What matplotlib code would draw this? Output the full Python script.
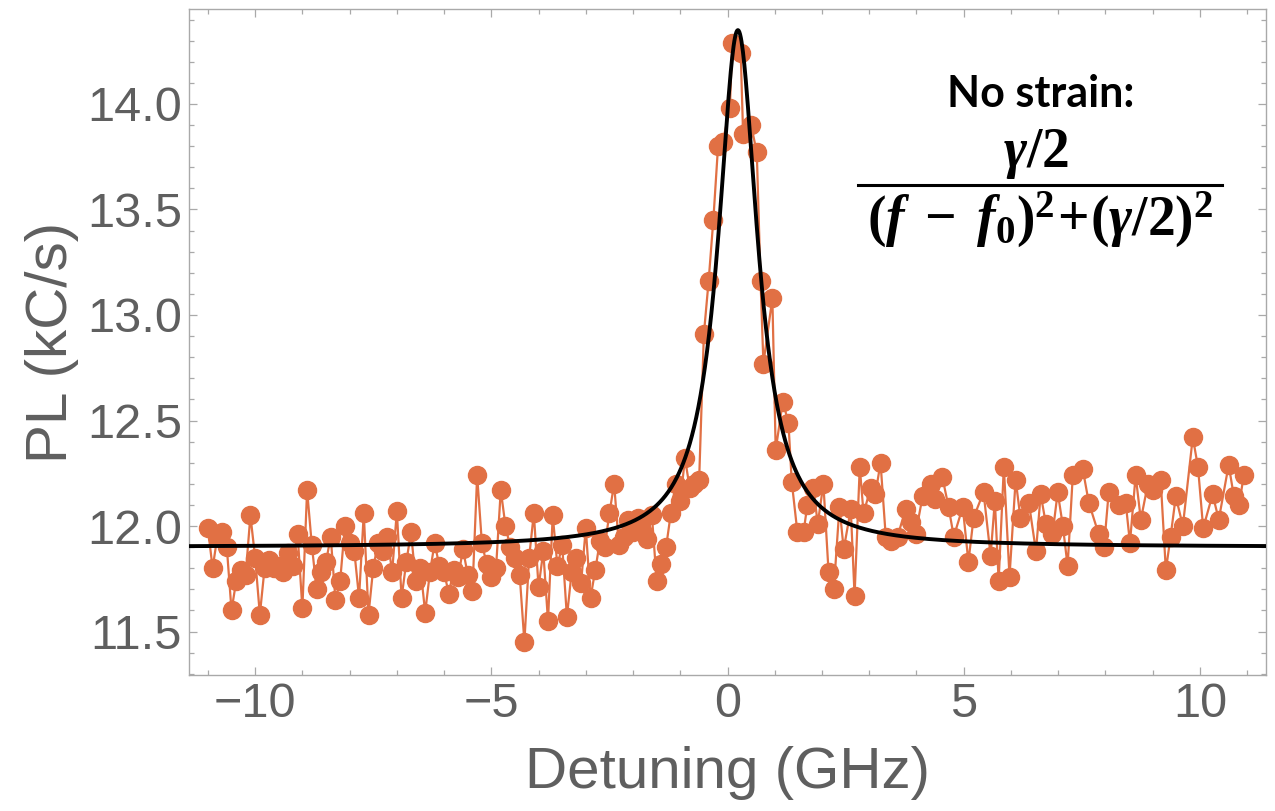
import matplotlib
matplotlib.use("Agg")
import matplotlib.pyplot as plt
import numpy as np
from matplotlib.lines import Line2D
from matplotlib.ticker import MultipleLocator

detuning = [
    -11.0, -10.9, -10.8, -10.7, -10.6, -10.5, -10.4, -10.3, -10.2, -10.1,
    -10.0, -9.9, -9.8, -9.7, -9.6, -9.5, -9.4, -9.3, -9.2, -9.1,
    -9.0, -8.9, -8.8, -8.7, -8.6, -8.5, -8.4, -8.3, -8.2, -8.1,
    -8.0, -7.9, -7.8, -7.7, -7.6, -7.5, -7.4, -7.3, -7.2, -7.1,
    -7.0, -6.9, -6.8, -6.7, -6.6, -6.5, -6.4, -6.3, -6.2, -6.1,
    -6.0, -5.9, -5.8, -5.7, -5.6, -5.5, -5.4, -5.3, -5.2, -5.1,
    -5.0, -4.9, -4.8, -4.7, -4.6, -4.5, -4.4, -4.3, -4.2, -4.1,
    -4.0, -3.9, -3.8, -3.7, -3.6, -3.5, -3.4, -3.3, -3.2, -3.1,
    -3.0, -2.9, -2.8, -2.7, -2.6, -2.5, -2.4, -2.3, -2.2, -2.1,
    -2.0, -1.9, -1.8, -1.7, -1.6, -1.5, -1.4, -1.3, -1.2, -1.1,
    -1.0, -0.9, -0.8, -0.7, -0.6, -0.5, -0.4, -0.3, -0.2, -0.1,
    0.05, 0.1, 0.28, 0.33, 0.5, 0.62, 0.7, 0.76, 0.95, 1.02,
    1.17, 1.29, 1.36, 1.48, 1.61, 1.69, 1.82, 1.91, 2.03, 2.14,
    2.25, 2.37, 2.46, 2.61, 2.69, 2.80, 2.88, 3.03, 3.13, 3.24,
    3.35, 3.47, 3.60, 3.77, 3.88, 3.98, 4.13, 4.30, 4.40, 4.55,
    4.68, 4.79, 4.98, 5.10, 5.21, 5.42, 5.57, 5.66, 5.74, 5.85,
    5.97, 6.10, 6.20, 6.38, 6.53, 6.63, 6.74, 6.88, 6.99, 7.10,
    7.20, 7.31, 7.52, 7.65, 7.86, 7.97, 8.07, 8.28, 8.43, 8.52,
    8.64, 8.75, 8.90, 9.00, 9.17, 9.28, 9.38, 9.49, 9.64, 9.85,
    9.96, 10.07, 10.27, 10.40, 10.61, 10.72, 10.83, 10.93,
]
pl = [
    11.99, 11.80, 11.95, 11.97, 11.90, 11.60, 11.74, 11.79, 11.77, 12.05,
    11.85, 11.58, 11.80, 11.84, 11.80, 11.81, 11.78, 11.87, 11.81, 11.96,
    11.61, 12.17, 11.91, 11.70, 11.78, 11.83, 11.95, 11.65, 11.74, 12.00,
    11.92, 11.88, 11.66, 12.06, 11.58, 11.80, 11.92, 11.88, 11.95, 11.78,
    12.07, 11.66, 11.83, 11.97, 11.74, 11.80, 11.59, 11.78, 11.92, 11.81,
    11.78, 11.68, 11.79, 11.76, 11.89, 11.77, 11.69, 12.24, 11.92, 11.82,
    11.76, 11.80, 12.17, 12.00, 11.90, 11.85, 11.77, 11.45, 11.85, 12.06,
    11.71, 11.88, 11.55, 12.05, 11.81, 11.91, 11.57, 11.78, 11.85, 11.73,
    11.99, 11.66, 11.79, 11.93, 11.90, 12.06, 12.20, 11.91, 11.95, 12.03,
    11.97, 12.04, 11.98, 11.94, 12.05, 11.74, 11.82, 11.90, 12.06, 12.20,
    12.12, 12.32, 12.18, 12.20, 12.22, 12.91, 13.16, 13.45, 13.80, 13.82,
    13.98, 14.29, 14.24, 13.86, 13.90, 13.77, 13.16, 12.77, 13.08, 12.36,
    12.59, 12.49, 12.21, 11.97, 11.97, 12.10, 12.18, 12.01, 12.20, 11.78,
    11.70, 12.09, 11.89, 12.08, 11.67, 12.28, 12.06, 12.18, 12.15, 12.30,
    11.95, 11.93, 11.95, 12.08, 12.02, 11.96, 12.14, 12.20, 12.13, 12.23,
    12.09, 11.95, 12.09, 11.83, 12.04, 12.16, 11.86, 12.12, 11.74, 12.28,
    11.76, 12.22, 12.04, 12.11, 11.88, 12.15, 12.01, 11.96, 12.16, 12.00,
    11.81, 12.24, 12.27, 12.11, 11.96, 11.90, 12.16, 12.10, 12.11, 11.92,
    12.24, 12.03, 12.20, 12.17, 12.22, 11.79, 11.95, 12.14, 12.00, 12.42,
    12.28, 11.99, 12.15, 12.03, 12.29, 12.14, 12.10, 12.24,
]

# Lorentzian fit parameters (GHz, kC/s)
f0 = 0.22
half_width = 0.51
background = 11.90
amplitude = 2.45

orange = "#E17044"
gray = "#5f5f5f"
frame_gray = "#a9a9a9"

plt.rcParams["mathtext.fontset"] = "custom"
plt.rcParams["mathtext.rm"] = "Liberation Serif:bold"
plt.rcParams["mathtext.it"] = "Liberation Serif:italic:bold"

fig = plt.figure(figsize=(12.75, 8.11), dpi=100)
ax = fig.add_axes([189 / 1275, 1 - 675 / 811, (1266 - 189) / 1275, (675 - 9) / 811])

ax.plot(detuning, pl, "-o", color=orange, lw=1.6, ms=13, mec=orange, zorder=2)

f = np.linspace(-11.4, 11.4, 1500)
fit = background + amplitude * half_width**2 / ((f - f0) ** 2 + half_width**2)
ax.plot(f, fit, color="black", lw=2.8, zorder=3)

ax.set_xlim(-11.4, 11.4)
ax.set_ylim(11.294, 14.45)

ax.xaxis.set_major_locator(MultipleLocator(5))
ax.xaxis.set_minor_locator(MultipleLocator(1))
ax.yaxis.set_major_locator(MultipleLocator(0.5))
ax.yaxis.set_minor_locator(MultipleLocator(0.1))
ax.yaxis.set_major_formatter(matplotlib.ticker.FormatStrFormatter("%.1f"))
ax.xaxis.set_major_formatter(
    matplotlib.ticker.FuncFormatter(lambda v, p: f"{int(v)}".replace("-", "\u2212"))
)

for side in ax.spines.values():
    side.set_color(frame_gray)
    side.set_linewidth(1.0)

ax.tick_params(which="both", direction="in", top=True, right=True,
               color=frame_gray, width=0.9, labelcolor=gray)
ax.tick_params(which="major", length=5.5, labelsize=35, pad=5)
ax.tick_params(which="minor", length=3.5)
for lab in ax.get_xticklabels() + ax.get_yticklabels():
    lab.set_family("Liberation Sans")

ax.set_xlabel("Detuning (GHz)", fontsize=42, color=gray, family="Liberation Sans", labelpad=14)
ax.set_ylabel("PL (kC/s)", fontsize=42, color=gray, family="Liberation Sans", labelpad=6)

# fit formula annotation
fig.text(1041 / 1275, 1 - 94 / 811, "No strain:", fontsize=31, fontweight="bold",
         family="Lato", ha="center", va="center", color="black")
fig.text(1036 / 1275, 1 - 154 / 811, r"$\gamma/2$", fontsize=40,
         ha="center", va="center", color="black")
fig.add_artist(Line2D([858 / 1275, 1222 / 1275], [1 - 185 / 811, 1 - 185 / 811],
                      color="black", lw=2.2))
fig.text(1040 / 1275, 1 - 220 / 811, r"$(f\;-\;f_0)^2\!+\!(\gamma/2)^2$", fontsize=40,
         ha="center", va="center", color="black")

fig.savefig("out.png", dpi=100)
